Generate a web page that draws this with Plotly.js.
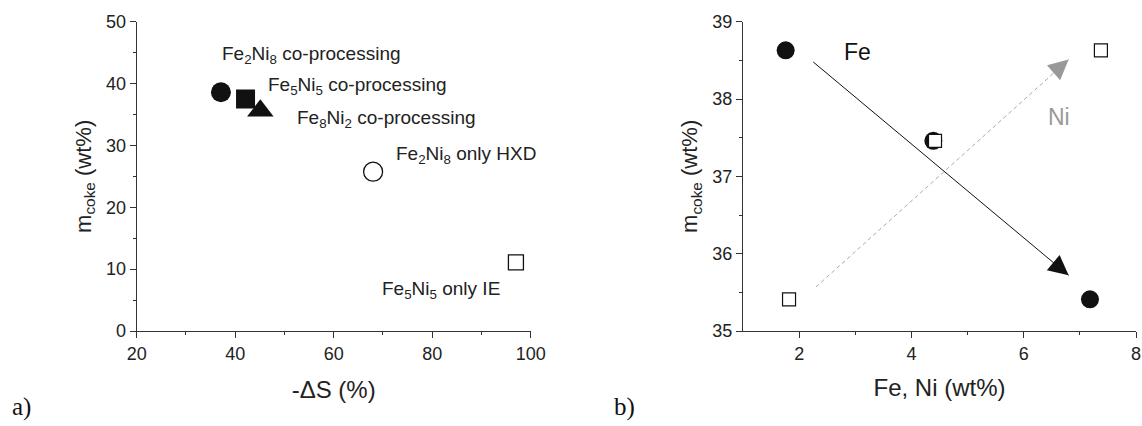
<!DOCTYPE html>
<html>
<head>
<meta charset="utf-8">
<script src="https://cdn.plot.ly/plotly-3.0.1.min.js"></script>
<style>html,body{margin:0;padding:0;background:#fff;}#chart{width:1142px;height:426px;}</style>
</head>
<body>
<div id="chart"></div>
<script>
// ---- Panel a) data ----
const aDeltaS = [37.1, 42.1, 45.1, 68.0, 97.0];          // -ΔS (%)
const aCoke   = [38.6, 37.5, 35.6, 25.75, 11.1];         // m_coke (wt%)
const aLabels = [
  'Fe<sub>2</sub>Ni<sub>8</sub> co-processing',
  'Fe<sub>5</sub>Ni<sub>5</sub> co-processing',
  'Fe<sub>8</sub>Ni<sub>2</sub> co-processing',
  'Fe<sub>2</sub>Ni<sub>8</sub> only HXD',
  'Fe<sub>5</sub>Ni<sub>5</sub> only IE'
];
const aLabelX = [37.0, 46.3, 52.1, 72.2, 69.3];
const aLabelY = [44.6, 39.6, 34.3, 28.4, 6.7];

// ---- Panel b) data ----
const bFe      = [1.76, 4.39, 7.18];      // Fe (wt%) – filled circles
const bFeCoke  = [38.63, 37.46, 35.41];
const bNi      = [1.82, 4.42, 7.375];     // Ni (wt%) – open squares
const bNiCoke  = [35.41, 37.46, 38.63];
const feArrowX = [2.25, 6.80], feArrowY = [38.48, 35.72];
const niArrowX = [2.30, 6.80], niArrowY = [35.57, 38.51];

const FONT = 'Arial, "Liberation Sans", sans-serif';
const tickFont = {family: FONT, size: 18, color: '#222'};
const titleFont = {family: FONT, size: 24, color: '#222'};
const yTitleFont = {family: FONT, size: 22, color: '#222'};

const traces = [
  {x: aDeltaS, y: aCoke, xaxis: 'x', yaxis: 'y', mode: 'markers', type: 'scatter',
   marker: {symbol: ['circle','square','triangle-up','circle','square'],
            size: [20, 19, 23, 19, 15], opacity: 1,
            color: ['#111','#111','#111','#fff','#fff'],
            line: {color: '#111', width: [0,0,0,1.3,1.3]}},
   hoverinfo: 'x+y', showlegend: false},
  {x: niArrowX, y: niArrowY, xaxis: 'x2', yaxis: 'y2', mode: 'lines', type: 'scatter',
   line: {color: '#aaa', width: 1, dash: '4px,3px'}, hoverinfo: 'skip', showlegend: false},
  {x: feArrowX, y: feArrowY, xaxis: 'x2', yaxis: 'y2', mode: 'lines', type: 'scatter',
   line: {color: '#111', width: 1}, hoverinfo: 'skip', showlegend: false},
  {x: bFe, y: bFeCoke, xaxis: 'x2', yaxis: 'y2', mode: 'markers', type: 'scatter',
   marker: {symbol: 'circle', size: 18, opacity: 1, color: '#111', line: {width: 0}},
   showlegend: false},
  {x: bNi, y: bNiCoke, xaxis: 'x2', yaxis: 'y2', mode: 'markers', type: 'scatter',
   marker: {symbol: 'square', size: 13, opacity: 1, color: '#fff', line: {color: '#111', width: 1.2}},
   showlegend: false}
];

const annotations = [];
aLabels.forEach((t, i) => annotations.push({
  x: aLabelX[i], y: aLabelY[i], xref: 'x', yref: 'y', text: t, showarrow: false,
  xanchor: 'left', yanchor: 'middle', font: {family: FONT, size: 19, color: '#222'}
}));
// arrow heads
annotations.push({x: feArrowX[1], y: feArrowY[1], ax: feArrowX[1] - 0.3, ay: feArrowY[1] + 0.18,
  xref: 'x2', yref: 'y2', axref: 'x2', ayref: 'y2', text: '', showarrow: true,
  arrowhead: 2, arrowsize: 4, arrowwidth: 1, arrowcolor: '#111', standoff: 0});
annotations.push({x: niArrowX[1], y: niArrowY[1], ax: niArrowX[1] - 0.3, ay: niArrowY[1] - 0.19,
  xref: 'x2', yref: 'y2', axref: 'x2', ayref: 'y2', text: '', showarrow: true,
  arrowhead: 2, arrowsize: 4, arrowwidth: 1, arrowcolor: '#999', standoff: 0});
annotations.push({x: 3.04, y: 38.61, xref: 'x2', yref: 'y2', text: 'Fe', showarrow: false,
  font: {family: FONT, size: 23, color: '#111'}});
annotations.push({x: 6.63, y: 37.77, xref: 'x2', yref: 'y2', text: 'Ni', showarrow: false,
  font: {family: FONT, size: 23, color: '#999'}});
// panel letters
annotations.push({x: 10 / 1142, y: 0.045, xref: 'paper', yref: 'paper', text: 'a)', showarrow: false,
  xanchor: 'left', yanchor: 'middle', font: {family: '"Liberation Serif", "Times New Roman", serif', size: 25, color: '#111'}});
annotations.push({x: 612 / 1142, y: 0.045, xref: 'paper', yref: 'paper', text: 'b)', showarrow: false,
  xanchor: 'left', yanchor: 'middle', font: {family: '"Liberation Serif", "Times New Roman", serif', size: 25, color: '#111'}});

function axisCommon() {
  return {showgrid: false, zeroline: false, showline: true, linecolor: '#333', linewidth: 1,
    ticks: 'outside', ticklen: 6, tickwidth: 1, tickcolor: '#333', tickfont: tickFont,
    mirror: false, fixedrange: true, automargin: false};
}
const yDom = [(426 - 331) / 426, (426 - 21.7) / 426];

const layout = {
  width: 1142, height: 426, margin: {l: 0, r: 0, t: 0, b: 0},
  paper_bgcolor: '#fff', plot_bgcolor: '#fff', showlegend: false,
  xaxis: Object.assign(axisCommon(), {domain: [136.7 / 1142, 530.7 / 1142], range: [20, 100],
    tickvals: [20, 40, 60, 80, 100], anchor: 'y',
    minor: {tickvals: [30, 50, 70, 90], ticklen: 3, tickcolor: '#333', ticks: 'outside'},
    title: {text: '-ΔS (%)', font: titleFont, standoff: 18}}),
  yaxis: Object.assign(axisCommon(), {domain: yDom, range: [0, 50], tickvals: [0, 10, 20, 30, 40, 50],
    anchor: 'x',
    minor: {tickvals: [5, 15, 25, 35, 45], ticklen: 3, tickcolor: '#333', ticks: 'outside'},
    title: {text: 'm<sub>coke</sub> (wt%)', font: yTitleFont, standoff: 8}}),
  xaxis2: Object.assign(axisCommon(), {domain: [743 / 1142, 1136 / 1142], range: [1, 8],
    tickvals: [2, 4, 6, 8], anchor: 'y2',
    minor: {tickvals: [3, 5, 7], ticklen: 3, tickcolor: '#333', ticks: 'outside'},
    title: {text: 'Fe, Ni (wt%)', font: titleFont, standoff: 16}}),
  yaxis2: Object.assign(axisCommon(), {domain: yDom, range: [35, 39], tickvals: [35, 36, 37, 38, 39],
    anchor: 'x2',
    minor: {tickvals: [35.5, 36.5, 37.5, 38.5], ticklen: 3, tickcolor: '#333', ticks: 'outside'},
    title: {text: 'm<sub>coke</sub> (wt%)', font: yTitleFont, standoff: 8}}),
  annotations: annotations
};

Plotly.newPlot('chart', traces, layout, {displayModeBar: false, staticPlot: true});
</script>
</body>
</html>
